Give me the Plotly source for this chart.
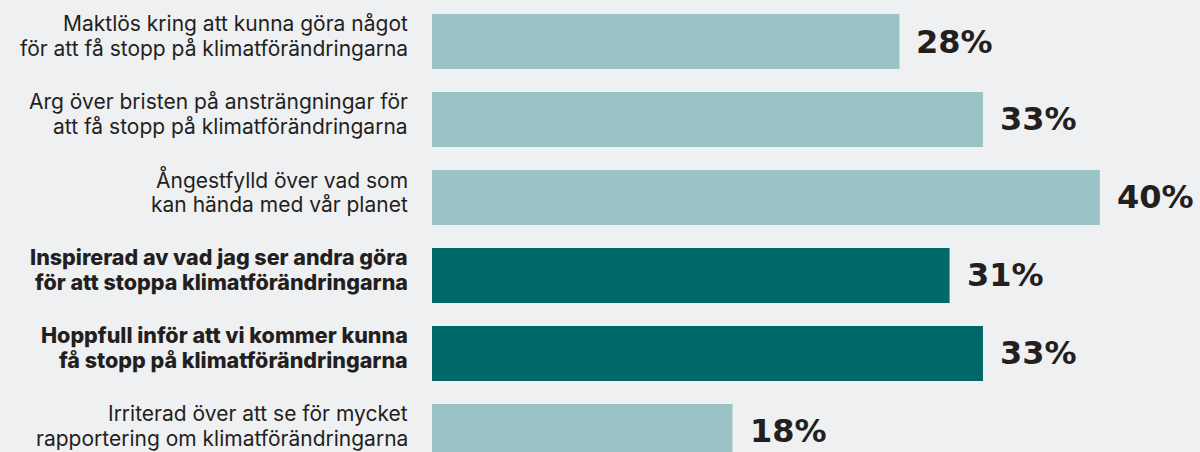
import plotly.graph_objects as go

categories = [
    "Maktlös kring att kunna göra något<br>för att få stopp på klimatförändringarna",
    "Arg över bristen på ansträngningar för<br>att få stopp på klimatförändringarna",
    "Ångestfylld över vad som<br>kan hända med vår planet",
    "Inspirerad av vad jag ser andra göra<br>för att stoppa klimatförändringarna",
    "Hoppfull inför att vi kommer kunna<br>få stopp på klimatförändringarna",
    "Irriterad över att se för mycket<br>rapportering om klimatförändringarna",
]
values = [28, 33, 40, 31, 33, 18]
highlight = [False, False, False, True, True, False]

LIGHT = "#9bc3c6"
DARK = "#00676a"
BG = "#eff0f2"
TEXT = "#231f20"

ypos = list(range(len(categories)))
colors = [DARK if h else LIGHT for h in highlight]

fig = go.Figure(go.Bar(
    x=values, y=ypos, orientation="h",
    marker=dict(color=colors, line=dict(width=0)),
    hoverinfo="skip",
))

line_shifts = [18.2, -7.0]
annotations = []
for i, (cat, v, h) in enumerate(zip(categories, values, highlight)):
    for line, ys in zip(cat.split("<br>"), line_shifts):
        annotations.append(dict(
            x=0, y=i, xref="x", yref="y", text=line, showarrow=False,
            xanchor="right", yanchor="middle", align="right",
            xshift=-22, yshift=ys,
            font=dict(family="Inter", size=21.5 if h else 21, color=TEXT,
                      weight=800 if h else 400),
        ))
    annotations.append(dict(
        x=v, y=i, xref="x", yref="y", text=f"{v}%", showarrow=False,
        xanchor="left", yanchor="middle", xshift=15,
        font=dict(family="DejaVu Sans", size=32, color=TEXT, weight=700),
    ))

fig.update_layout(
    width=1200, height=452,
    margin=dict(l=432, r=0, t=0, b=0),
    paper_bgcolor=BG, plot_bgcolor=BG,
    bargap=0.295,
    showlegend=False,
    xaxis=dict(range=[0, 46], visible=False, fixedrange=True),
    yaxis=dict(range=[5.263, -0.532], visible=False, fixedrange=True),
    annotations=annotations,
)

fig.write_html("out.html")
